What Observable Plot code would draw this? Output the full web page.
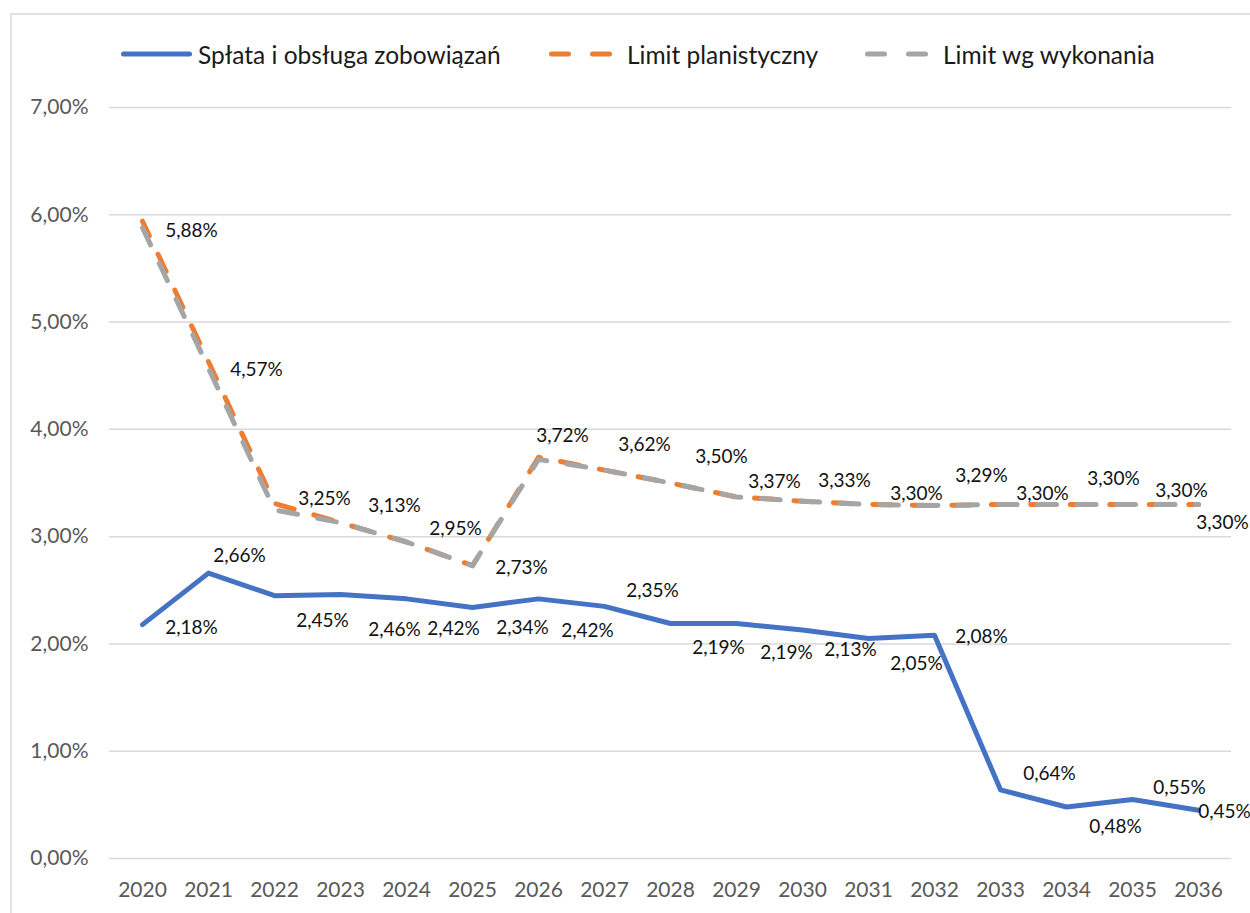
<!DOCTYPE html>
<html><head><meta charset="utf-8">
<script src="https://cdn.jsdelivr.net/npm/d3@7"></script>
<script src="https://cdn.jsdelivr.net/npm/@observablehq/plot@0.6"></script>
<style>
body{margin:0;background:#fff;font-family:Lato,sans-serif;}
#frame{position:absolute;left:10px;top:13px;width:1260px;height:920px;border-left:2px solid #e2e2e2;border-top:2px solid #e2e2e2;pointer-events:none;}
#legend{position:relative;height:85px;}
.item{position:absolute;top:39px;height:30px;display:flex;align-items:center;font-size:24.5px;color:#1a1a1a;white-space:nowrap;}
.item svg{display:block;}
</style></head><body>
<div id="legend"></div><div id="chart"></div><div id="frame"></div>
<script>
const years = ["2020","2021","2022","2023","2024","2025","2026","2027","2028","2029","2030","2031","2032","2033","2034","2035","2036"];
const splata = [2.18,2.66,2.45,2.46,2.42,2.34,2.42,2.35,2.19,2.19,2.13,2.05,2.08,0.64,0.48,0.55,0.45];
const limitPlan = [5.94,4.63,3.31,3.13,2.95,2.73,3.74,3.62,3.50,3.37,3.33,3.30,3.29,3.30,3.30,3.30,3.30];
const limitWyk = [5.88,4.57,3.25,3.13,2.95,2.73,3.72,3.62,3.50,3.37,3.33,3.30,3.29,3.30,3.30,3.30,3.30];
const yTicks = [0,1,2,3,4,5,6,7];
const seriesNames = ["Spłata i obsługa zobowiązań","Limit planistyczny","Limit wg wykonania"];
const seriesColors = ["#4472C4","#ED7D31","#A5A5A5"];

// label placement offsets (px), not data
const blueDx = [49,31,48,54,47,50,49,48,48,50,48,48,47,49,49,47,26];
const blueDy = [3,-17,25,35,30,20,32,-15,24,29,20,25,2,-16,20,-12,2];
const limDx = [49,48,50,54,49,49,24,40,51,38,42,48,47,42,47,49,24];
const limDy = [3,2,-11,-17,-13,2,-23,-25,-26,-15,-20,-11,-30,-11,-26,-14,18];

const fmt = v => v.toFixed(2).replace(".", ",") + "%";
const rows = vals => years.map((y, i) => ({year: y, value: vals[i]}));

// Legend
const legend = document.getElementById("legend");
const legendLayout = [
  {left: 121, w: 72, dashed: false, gap: 5},
  {left: 549, w: 64, dashed: true, gap: 14},
  {left: 865, w: 64, dashed: true, gap: 14}
];
seriesNames.forEach((name, i) => {
  const L = legendLayout[i];
  const div = document.createElement("div");
  div.className = "item";
  div.style.left = L.left + "px";
  const x2 = L.dashed ? 60.5 : 68.5;
  div.innerHTML = `<svg width="${L.w}" height="10"><line x1="2.5" y1="5" x2="${x2}" y2="5" stroke="${seriesColors[i]}" stroke-width="5" stroke-linecap="round" ${L.dashed ? 'stroke-dasharray="17 24"' : ''}/></svg><span style="margin-left:${L.gap}px">${name}</span>`;
  legend.appendChild(div);
});

const labelMarks = (vals, dxs, dys) => vals.map((v, i) =>
  Plot.text([{year: years[i], value: v}], {
    x: "year", y: "value", text: d => fmt(d.value),
    dx: dxs[i], dy: dys[i], fontSize: 19, fill: "#111"
  }));

const dashOpts = {strokeWidth: 5, strokeDasharray: "19,20.5", strokeLinecap: "round", strokeLinejoin: "round"};

const chart = Plot.plot({
  width: 1250, height: 828,
  marginLeft: 109, marginRight: 19, marginTop: 22, marginBottom: 55,
  style: {fontFamily: "Lato, sans-serif", background: "transparent", overflow: "visible"},
  x: {type: "point", domain: years, padding: 0.5},
  y: {domain: [0, 7]},
  marks: [
    Plot.gridY(yTicks, {stroke: "#d9d9d9", strokeOpacity: 1, strokeWidth: 1.5}),
    Plot.axisY(yTicks, {tickSize: 0, tickPadding: 21, tickFormat: fmt, fontSize: 21, color: "#595959", label: null}),
    Plot.axisX({tickSize: 0, tickPadding: 24, fontSize: 21, color: "#595959", label: null}),
    Plot.line(rows(splata), {x: "year", y: "value", stroke: seriesColors[0], strokeWidth: 5, strokeLinecap: "round", strokeLinejoin: "round"}),
    Plot.line(rows(limitPlan), {x: "year", y: "value", stroke: seriesColors[1], strokeDashoffset: 3, ...dashOpts}),
    Plot.line(rows(limitWyk), {x: "year", y: "value", stroke: seriesColors[2], ...dashOpts}),
    ...labelMarks(splata, blueDx, blueDy),
    ...labelMarks(limitWyk, limDx, limDy)
  ]
});
document.getElementById("chart").appendChild(chart);
</script>
</body></html>
